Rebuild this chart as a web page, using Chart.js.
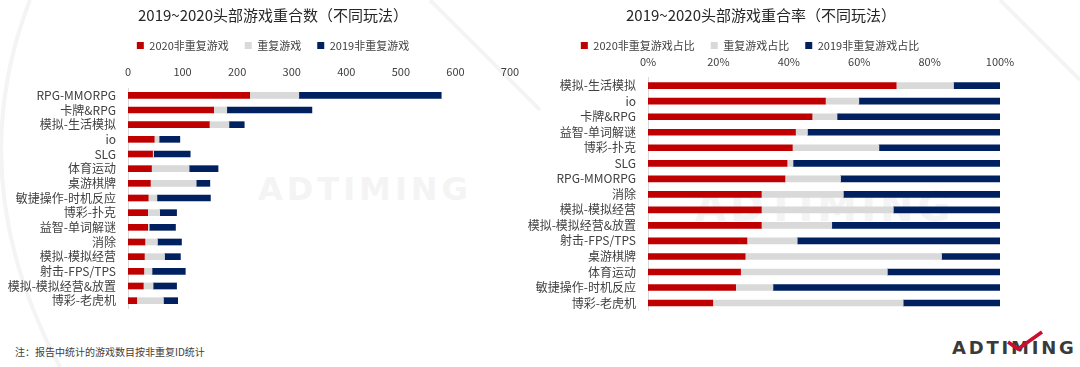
<!DOCTYPE html>
<html>
<head>
<meta charset="utf-8">
<script src="https://cdn.jsdelivr.net/npm/chart.js@4"></script>
<style>
  html, body { margin:0; padding:0; background:#fff; }
  body { width:1080px; height:367px; position:relative; overflow:hidden; font-family:"Noto Sans CJK SC","Noto Sans",sans-serif; }
  canvas { position:absolute; top:0; }
  #bg { position:absolute; left:0; top:0; }
  .mark { position:absolute; font-family:"DejaVu Sans",sans-serif; font-weight:bold; color:#f4f4f4; letter-spacing:4px; }
  #note { position:absolute; left:15px; top:344px; font-size:10px; color:#404040; }
  #logo { position:absolute; left:952px; top:337px; font-family:"DejaVu Sans",sans-serif; font-weight:bold; font-size:18px; letter-spacing:2.8px; color:#3a3a3a; }
</style>
</head>
<body>
<svg id="bg" width="1080" height="367">
  <path d="M30 0 Q-40 180 60 367" fill="none" stroke="#f4f4f4" stroke-width="4"/>
  <path d="M430 0 L540 110" stroke="#f4f4f4" stroke-width="4"/>
  <path d="M1000 0 L1080 80" stroke="#f4f4f4" stroke-width="4"/>
</svg>
<div class="mark" style="left:258px;top:170px;font-size:32px;">ADTIMING</div>
<div class="mark" style="left:695px;top:184px;font-size:40px;">ADTIMING</div>

<canvas id="countChart" width="540" height="330" style="left:0"></canvas>
<canvas id="rateChart" width="568" height="330" style="left:512px"></canvas>

<div id="note">注：报告中统计的游戏数目按非重复ID统计</div>
<div id="logo">ADTIMING</div>
<svg style="position:absolute;left:1000px;top:328px" width="50" height="26">
  <polyline points="8,14 18,21 42,4" fill="none" stroke="#c8102e" stroke-width="3.5"/>
</svg>

<script>
// ── Left chart: overlap counts ─────────────────────────────
const countCats = ['RPG-MMORPG','卡牌&RPG','模拟-生活模拟','io','SLG','体育运动','桌游棋牌','敏捷操作-时机反应','博彩-扑克','益智-单词解谜','消除','模拟-模拟经营','射击-FPS/TPS','模拟-模拟经营&放置','博彩-老虎机'];
const count2020 = [223,157,149,48,45,43,41,37,36,36,31,30,29,28,16];
const countBoth = [90,24,36,9,2,69,84,16,22,3,23,37,15,18,49];
const count2019 = [261,156,28,38,67,53,25,98,31,48,44,29,61,43,26];
const countTicks = [0,100,200,300,400,500,600,700];

// ── Right chart: overlap rate (%) ──────────────────────────
const rateCats = ['模拟-生活模拟','io','卡牌&RPG','益智-单词解谜','博彩-扑克','SLG','RPG-MMORPG','消除','模拟-模拟经营','模拟-模拟经营&放置','射击-FPS/TPS','桌游棋牌','体育运动','敏捷操作-时机反应','博彩-老虎机'];
const rate2020 = [70.5,50.4,46.6,41.9,41.0,39.5,38.9,32.2,32.2,32.2,28.1,27.6,26.3,24.9,18.4];
const rateBoth = [16.3,9.5,7.1,3.4,24.6,1.7,15.8,23.3,37.5,20.0,14.3,55.8,41.7,10.6,54.1];
const rate2019 = [13.2,40.1,46.3,54.7,34.4,58.8,45.3,44.5,30.3,47.8,57.6,16.6,32.0,64.5,27.5];
const rateTicks = [0,20,40,60,80,100];

const RED = '#c00000', GRAY = '#d9d9d9', NAVY = '#002060';
const FONT = "'Noto Sans CJK SC', 'Noto Sans', sans-serif";

// nudge title / legend sideways after layout (they are centred off the plot)
const shiftHeader = {
  id: 'shiftHeader',
  afterLayout(chart, args, opts) {
    const t = chart.titleBlock, l = chart.legend;
    if (t) { t.left += opts.titleDx; t.right += opts.titleDx; }
    if (l) { l.left += opts.legendDx; l.right += opts.legendDx; }
  }
};

function stackedBar(id, cfg) {
  const ctx = document.getElementById(id);
  return new Chart(ctx.getContext('2d'), {
    type: 'bar',
    plugins: [shiftHeader],
    data: {
      labels: cfg.labels,
      datasets: cfg.series.map(s => ({ label:s[0], data:s[1], backgroundColor:s[2], barThickness:6, borderWidth:0 }))
    },
    options: {
      indexAxis: 'y',
      responsive: false,
      animation: false,
      layout: { padding: cfg.padding },
      plugins: {
        shiftHeader: { titleDx: cfg.titleDx, legendDx: cfg.legendDx },
        title: { display:true, text:cfg.title, color:'#262626', font:{family:FONT, size:15, weight:'normal'}, padding:{top:6, bottom:0} },
        legend: { maxHeight: cfg.legendMax, labels: { boxWidth:7, boxHeight:7, padding:16, color:'#404040', font:{family:FONT, size:11} } },
        tooltip: { enabled:false }
      },
      scales: {
        x: {
          position: 'top', stacked: true, min: 0, max: cfg.max,
          afterBuildTicks: s => { s.ticks = cfg.ticks.map(v => ({ value:v })); },
          ticks: { padding: cfg.tickPad, color:'#404040', font:{family:FONT, size:11}, callback: cfg.fmt },
          grid: { display:false, drawTicks:false },
          border: { display:false },
          afterFit: s => { s.height = cfg.xHeight; }
        },
        y: {
          stacked: true,
          ticks: { padding:12, color:'#404040', font:{family:FONT, size:12}, autoSkip:false },
          grid: { display:false, drawTicks:false },
          border: { display:true, color:'#d9d9d9', width:1 },
          afterFit: s => { s.width = cfg.yWidth; }
        }
      }
    }
  });
}

stackedBar('countChart', {
  title: '2019~2020头部游戏重合数（不同玩法）',
  labels: countCats,
  series: [['2020非重复游戏', count2020, RED], ['重复游戏', countBoth, GRAY], ['2019非重复游戏', count2019, NAVY]],
  max: 700, ticks: countTicks, fmt: v => v,
  padding: { left:0, right:30, top:0, bottom:22 },
  legendMax: 37, xHeight: 27, tickPad: 9.3, yWidth: 128,
  titleDx: 18, legendDx: 18
});

stackedBar('rateChart', {
  title: '2019~2020头部游戏重合率（不同玩法）',
  labels: rateCats,
  series: [['2020非重复游戏占比', rate2020, RED], ['重复游戏占比', rateBoth, GRAY], ['2019非重复游戏占比', rate2019, NAVY]],
  max: 100, ticks: rateTicks, fmt: v => v + '%',
  padding: { left:0, right:80, top:0, bottom:15 },
  legendMax: 29.8, xHeight: 24.1, tickPad: 9.8, yWidth: 136,
  titleDx: 5, legendDx: -6
});
</script>
</body>
</html>
